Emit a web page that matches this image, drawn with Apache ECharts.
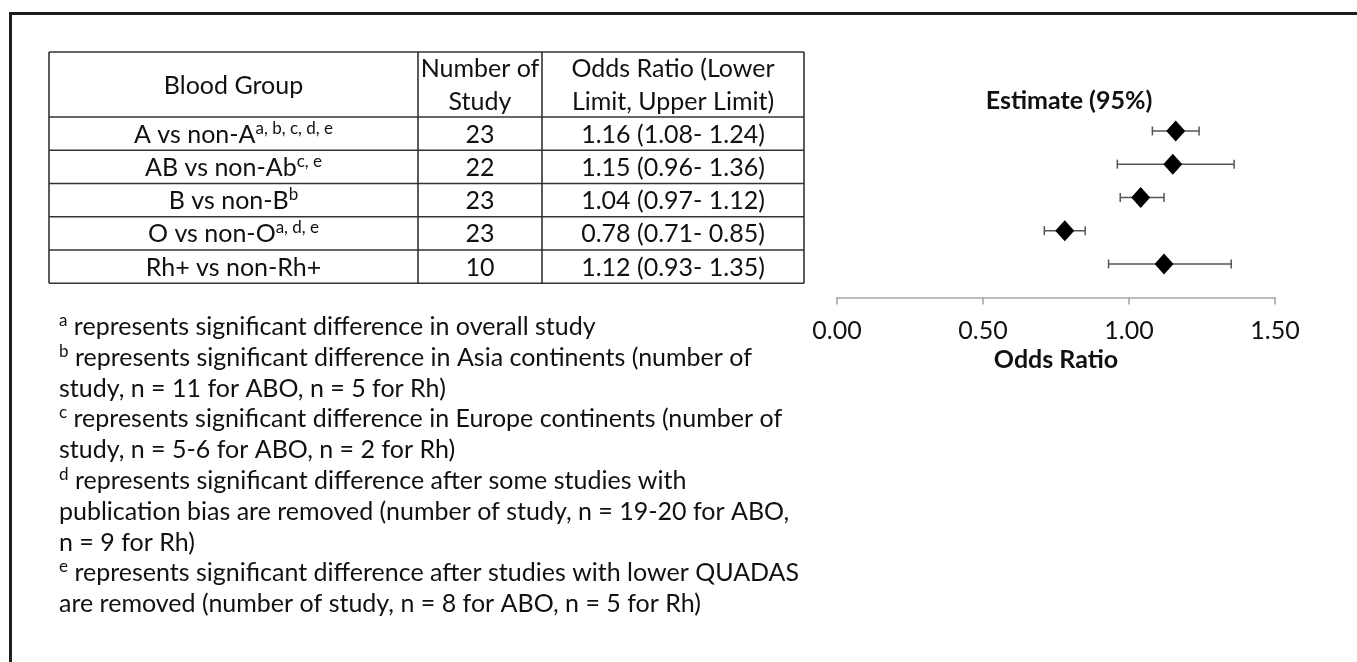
<!DOCTYPE html>
<html>
<head>
<meta charset="utf-8">
<script src="https://cdn.jsdelivr.net/npm/echarts@6/dist/echarts.min.js"></script>
<style>
  html, body { margin: 0; padding: 0; background: #fff; }
  #chart { width: 1357px; height: 662px; }
</style>
</head>
<body>
<div id="chart"></div>
<script>
// ---- data ----
const groups = ['A vs non-A', 'AB vs non-Ab', 'B vs non-B', 'O vs non-O', 'Rh+ vs non-Rh+'];
const groupNotes = ['a, b, c, d, e', 'c, e', 'b', 'a, d, e', ''];
const studyCounts = [23, 22, 23, 23, 10];
const oddsRatio = [1.16, 1.15, 1.04, 0.78, 1.12];
const lowerLimit = [1.08, 0.96, 0.97, 0.71, 0.93];
const upperLimit = [1.24, 1.36, 1.12, 0.85, 1.35];
const headers = ['Blood Group', 'Number of\nStudy', 'Odds Ratio (Lower\nLimit, Upper Limit)'];
const axisMin = 0, axisMax = 1.5, axisStep = 0.5;
const footnotes = [
  ['a', ' represents significant difference in overall study'],
  ['b', ' represents significant difference in Asia continents (number of'],
  ['', 'study, n = 11 for ABO, n = 5 for Rh)'],
  ['c', ' represents significant difference in Europe continents (number of'],
  ['', 'study, n = 5-6 for ABO, n = 2 for Rh)'],
  ['d', ' represents significant difference after some studies with'],
  ['', 'publication bias are removed (number of study, n = 19-20 for ABO,'],
  ['', 'n = 9 for Rh)'],
  ['e', ' represents significant difference after studies with lower QUADAS'],
  ['', 'are removed (number of study, n = 8 for ABO, n = 5 for Rh)']
];

// ---- layout ----
const FONT = 'Lato, "Open Sans", sans-serif';
const FS = 25;
const SUP = 17;
const TXT = '#111';
const tbl = { top: 52, headH: 65, rowH: 33.25, cols: [49, 418, 542, 804] };
const noteX = 59, noteY0 = 327, noteStep = 30.8;

const chart = echarts.init(document.getElementById('chart'));

const rich = {
  m: { fontSize: FS, fontFamily: FONT, fill: TXT, color: TXT, lineHeight: 30, verticalAlign: 'middle' },
  s: { fontSize: SUP, fontFamily: FONT, fill: TXT, color: TXT, lineHeight: 17, verticalAlign: 'top' }
};

const graphics = [];
const line = (x1, y1, x2, y2, w, c) => graphics.push({
  type: 'line', silent: true,
  shape: { x1, y1, x2, y2 },
  style: { stroke: c, lineWidth: w }
});

// outer frame
line(10.5, 13.5, 1357, 13.5, 3, '#1e1e1e');
line(10.5, 12, 10.5, 662, 3, '#1e1e1e');

// table grid
const nRows = groups.length;
const tblBottom = tbl.top + tbl.headH + nRows * tbl.rowH;
const hy = [tbl.top, tbl.top + tbl.headH];
for (let i = 1; i <= nRows; i++) hy.push(tbl.top + tbl.headH + i * tbl.rowH);
hy.forEach(y => line(tbl.cols[0], y, tbl.cols[3], y, 1.6, '#333'));
tbl.cols.forEach(x => line(x, tbl.top, x, tblBottom, 1.6, '#333'));

const colCenter = i => (tbl.cols[i] + tbl.cols[i + 1]) / 2;
const text = (x, y, str, extra) => graphics.push({
  type: 'text', silent: true,
  style: Object.assign({
    text: str, x, y, align: 'center', verticalAlign: 'middle',
    fontSize: FS, fontFamily: FONT, fill: TXT, lineHeight: 33
  }, extra || {})
});

// header
headers.forEach((h, i) => text(colCenter(i), tbl.top + tbl.headH / 2 + 1, h));

// body rows
groups.forEach((g, i) => {
  const y = tbl.top + tbl.headH + (i + 0.5) * tbl.rowH + 1;
  const label = groupNotes[i] ? `{m|${g}}{s|${groupNotes[i]}}` : `{m|${g}}`;
  text(colCenter(0), y, label, { rich });
  text(colCenter(1), y, String(studyCounts[i]));
  text(colCenter(2), y,
    `${oddsRatio[i].toFixed(2)} (${lowerLimit[i].toFixed(2)}- ${upperLimit[i].toFixed(2)})`);
});

// footnotes
footnotes.forEach(([sup, body], i) => {
  const str = (sup ? `{s|${sup}}` : '') + `{m|${body}}`;
  text(noteX, noteY0 + i * noteStep, str, { rich, align: 'left' });
});

// plot heading
text(1069, 101, 'Estimate (95%)', { fontWeight: 'bold' });

// forest plot: rows share the table's row pitch
const plotTop = tbl.top + tbl.headH - 2.7;

chart.setOption({
  animation: false,
  graphic: { elements: graphics },
  grid: { left: 837, right: 82, top: plotTop, height: nRows * tbl.rowH, containLabel: false },
  xAxis: {
    type: 'value', min: axisMin, max: axisMax, interval: axisStep, offset: 17,
    axisLine: { show: true, lineStyle: { color: '#a6a6a6', width: 1.6 } },
    axisTick: { show: true, length: 7, lineStyle: { color: '#a6a6a6', width: 1.6 } },
    splitLine: { show: false },
    axisLabel: {
      margin: 21, fontSize: FS, fontFamily: FONT, color: TXT,
      showMinLabel: true, showMaxLabel: true,
      formatter: v => v.toFixed(2)
    },
    name: 'Odds Ratio', nameLocation: 'middle', nameGap: 50,
    nameTextStyle: { fontSize: FS, fontFamily: FONT, fontWeight: 'bold', color: TXT }
  },
  yAxis: { type: 'category', data: groups, inverse: true, show: false },
  series: [
    {
      type: 'custom',
      data: lowerLimit.map((lo, i) => [lo, upperLimit[i], i]),
      encode: { x: [0, 1], y: 2 },
      renderItem(params, api) {
        const idx = api.value(2);
        const a = api.coord([api.value(0), idx]);
        const b = api.coord([api.value(1), idx]);
        const h = 4.5;
        const st = { stroke: '#555', lineWidth: 1.5 };
        return {
          type: 'group',
          children: [
            { type: 'line', shape: { x1: a[0], y1: a[1], x2: b[0], y2: b[1] }, style: st },
            { type: 'line', shape: { x1: a[0], y1: a[1] - h, x2: a[0], y2: a[1] + h }, style: st },
            { type: 'line', shape: { x1: b[0], y1: b[1] - h, x2: b[0], y2: b[1] + h }, style: st }
          ]
        };
      },
      z: 2
    },
    {
      type: 'scatter',
      data: oddsRatio.map((v, i) => [v, i]),
      symbol: 'diamond',
      symbolSize: [19, 21],
      itemStyle: { color: '#000', opacity: 1 },
      z: 3
    }
  ]
});
</script>
</body>
</html>
